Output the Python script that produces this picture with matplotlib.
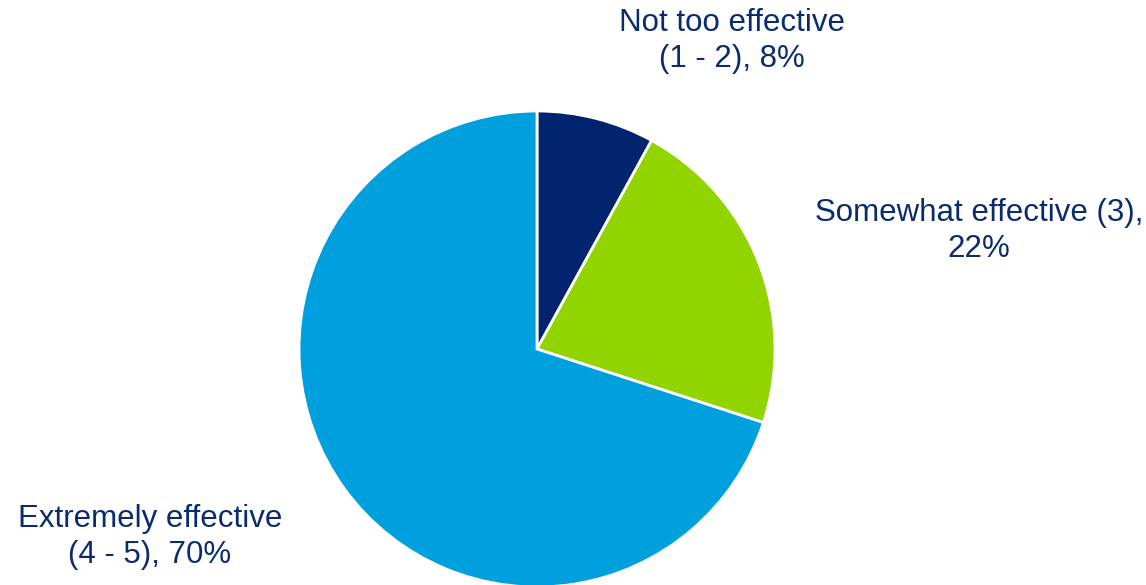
import matplotlib
matplotlib.use("Agg")
import matplotlib.pyplot as plt

plt.rcParams['font.family'] = ['Liberation Sans', 'DejaVu Sans']

# Survey responses: perceived effectiveness
categories = ["Not too effective\n(1 - 2)", "Somewhat effective (3)", "Extremely effective\n(4 - 5)"]
values = [8, 22, 70]
colors = ["#00256E", "#92D400", "#00A0DF"]
separators = [", ", ",\n", ", "]
text_color = "#0A2C6E"

W, H = 1146, 585
fig = plt.figure(figsize=(W / 100, H / 100), dpi=100)

# Pie centred at (537, 349) px with a 238 px radius
cx, cy, r = 537, 349, 238
ax = fig.add_axes([(cx - r) / W, (H - cy - r) / H, 2 * r / W, 2 * r / H])
ax.pie(values, colors=colors, startangle=90, counterclock=False,
       radius=1.0, wedgeprops=dict(edgecolor="white", linewidth=2.0))
ax.set_xlim(-1, 1)
ax.set_ylim(-1, 1)
ax.set_aspect("equal")
ax.axis("off")

# Label centres in pixels
label_pos = [(732, 41), (979, 231), (150, 537)]
for cat, val, sep, (px, py) in zip(categories, values, separators, label_pos):
    fig.text(px / W, 1 - py / H, f"{cat}{sep}{val}%", ha="center", va="center",
             fontsize=22.5, color=text_color, linespacing=1.27)

fig.savefig("out.png", dpi=100)
